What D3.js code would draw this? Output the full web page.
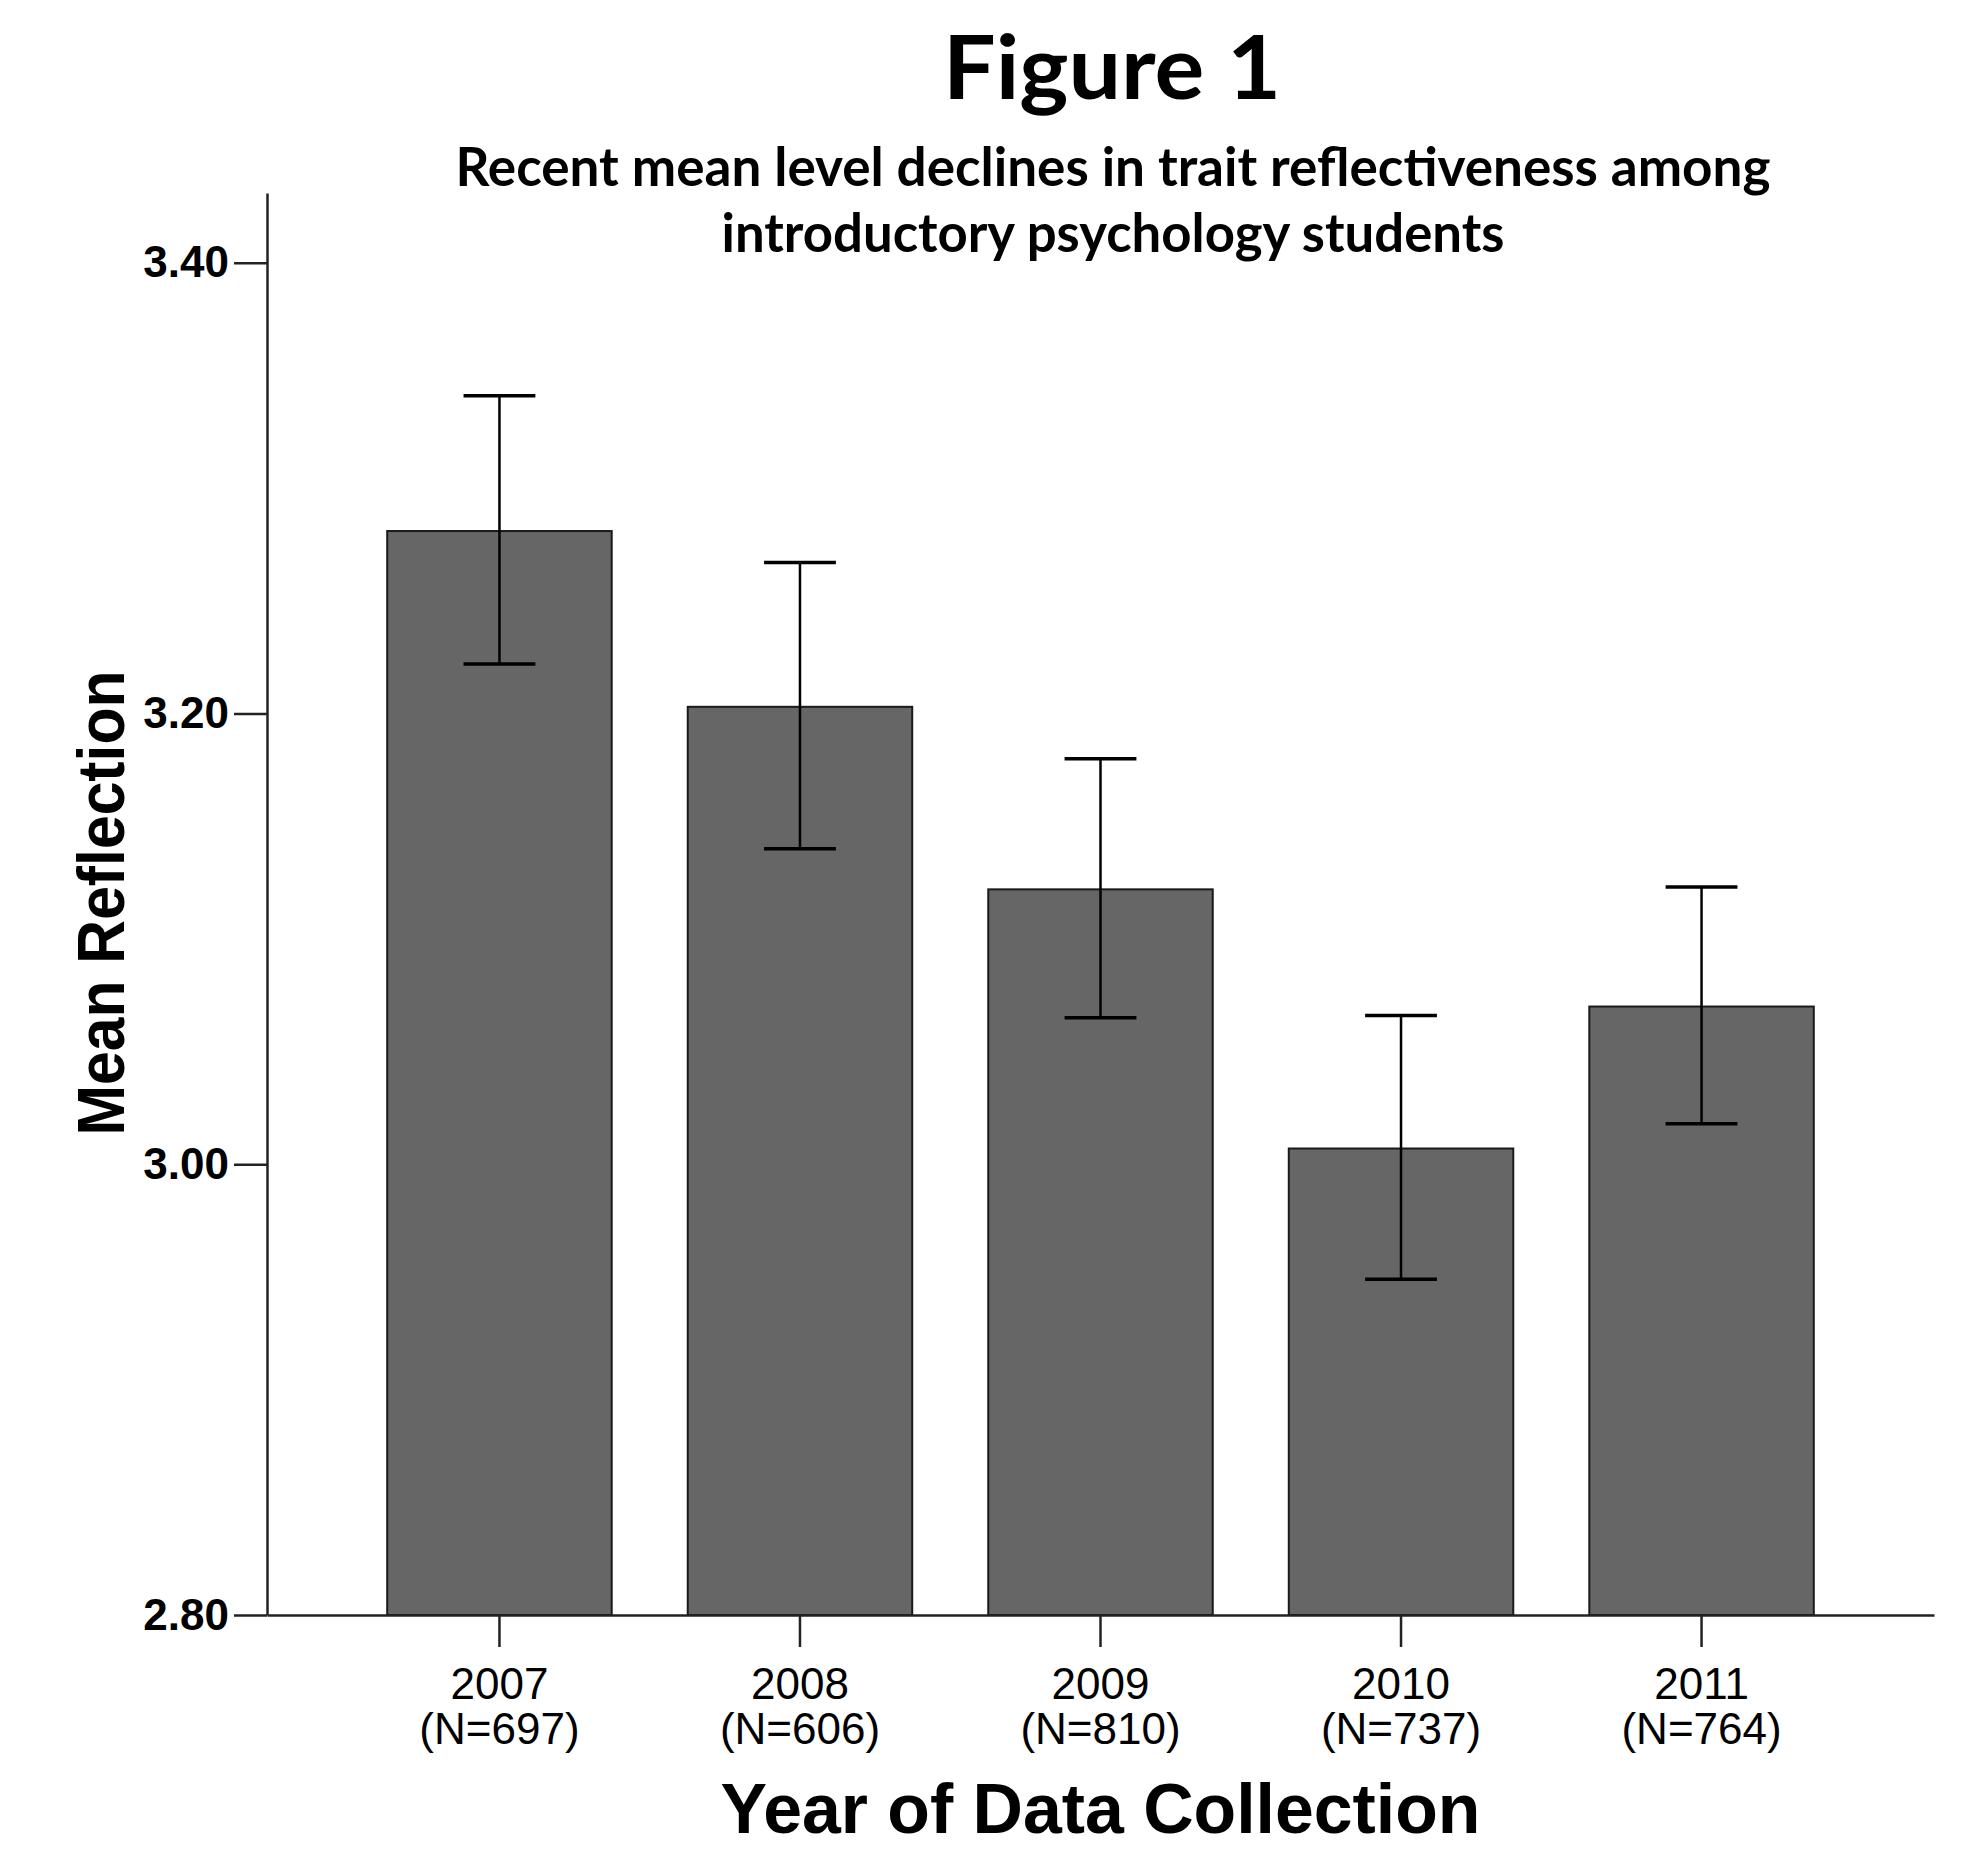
<!DOCTYPE html>
<html>
<head>
<meta charset="utf-8">
<script src="https://cdn.jsdelivr.net/npm/d3@7"></script>
<style>
  html, body { margin: 0; padding: 0; background: #fff; }
  svg { display: block; }
</style>
</head>
<body>
<svg id="chart" width="1986" height="1852"></svg>
<script>
// values
var years = ['2007', '2008', '2009', '2010', '2011'];
var sampleSizes = [697, 606, 810, 737, 764];
var means = [3.281, 3.203, 3.122, 3.007, 3.070];
var ciLow = [3.222, 3.140, 3.065, 2.949, 3.018];
var ciHigh = [3.341, 3.267, 3.180, 3.066, 3.123];
var yTicks = [2.80, 3.00, 3.20, 3.40];

var svg = d3.select('#chart');
// note: "top" is taken by window.top, so plot edges get their own names
var plotLeft = 267, plotRight = 1934, plotTop = 193, plotBottom = 1615;

var x = d3.scaleBand().domain(years).range([plotLeft, plotRight]).paddingInner(0.253).paddingOuter(0.4);
var y = d3.scaleLinear().domain([2.8, 3.431]).range([plotBottom, plotTop]);

var rows = years.map(function(yr, i) {
  return { year: yr, n: sampleSizes[i], mean: means[i], lo: ciLow[i], hi: ciHigh[i] };
});

// bars
svg.append('g').selectAll('rect').data(rows).enter().append('rect')
   .attr('x', d => x(d.year))
   .attr('y', d => y(d.mean))
   .attr('width', x.bandwidth())
   .attr('height', d => y(2.8) - y(d.mean))
   .attr('fill', '#666666')
   .attr('stroke', '#1a1a1a')
   .attr('stroke-width', 2);

// error bars
var capHalf = x.bandwidth() * 0.16;
var err = svg.append('g').attr('stroke', '#000').attr('stroke-width', 2.5);
rows.forEach(function(d) {
  var cx = x(d.year) + x.bandwidth() / 2;
  err.append('line').attr('x1', cx).attr('x2', cx).attr('y1', y(d.hi)).attr('y2', y(d.lo));
  err.append('line').attr('x1', cx - capHalf).attr('x2', cx + capHalf).attr('y1', y(d.hi)).attr('y2', y(d.hi)).attr('stroke-width', 3.5);
  err.append('line').attr('x1', cx - capHalf).attr('x2', cx + capHalf).attr('y1', y(d.lo)).attr('y2', y(d.lo)).attr('stroke-width', 3.5);
});

// y axis
var yAxis = svg.append('g')
   .attr('transform', 'translate(' + plotLeft + ',0)')
   .call(d3.axisLeft(y).tickValues(yTicks).tickFormat(d3.format('.2f')).tickSize(33).tickSizeOuter(0).tickPadding(5));
yAxis.select('.domain').attr('stroke', '#222').attr('stroke-width', 2.5);
yAxis.selectAll('.tick line').attr('stroke', '#222').attr('stroke-width', 2.5);
yAxis.selectAll('.tick text')
     .attr('font-family', '"Liberation Sans", Arial, sans-serif')
     .attr('font-size', 44).attr('font-weight', 700).attr('fill', '#000');

// x axis
var xAxis = svg.append('g')
   .attr('transform', 'translate(0,' + plotBottom + ')')
   .call(d3.axisBottom(x).tickSize(32).tickSizeOuter(0).tickFormat(''));
xAxis.select('.domain').attr('stroke', '#222').attr('stroke-width', 2.5);
xAxis.selectAll('.tick line').attr('stroke', '#222').attr('stroke-width', 2.5);
xAxis.selectAll('.tick text').remove();
xAxis.selectAll('.tick').each(function(yr, i) {
  var t = d3.select(this).append('text')
            .attr('font-family', '"Liberation Sans", Arial, sans-serif')
            .attr('font-size', 44).attr('fill', '#000')
            .attr('text-anchor', 'middle');
  t.append('tspan').attr('x', 0).attr('y', 84).text(yr);
  t.append('tspan').attr('x', 0).attr('y', 129).text('(N=' + sampleSizes[i] + ')');
});

// axis titles
svg.append('text')
   .attr('x', (plotLeft + plotRight) / 2).attr('y', 1833)
   .attr('text-anchor', 'middle')
   .attr('font-family', '"Liberation Sans", Arial, sans-serif')
   .attr('font-size', 70).attr('font-weight', 700)
   .attr('textLength', 760).attr('lengthAdjust', 'spacingAndGlyphs')
   .text('Year of Data Collection');

svg.append('text')
   .attr('transform', 'translate(124,903) rotate(-90)')
   .attr('text-anchor', 'middle')
   .attr('font-family', '"Liberation Sans", Arial, sans-serif')
   .attr('font-size', 66).attr('font-weight', 700)
   .attr('textLength', 465).attr('lengthAdjust', 'spacingAndGlyphs')
   .text('Mean Reflection');

// titles
svg.append('text')
   .attr('x', 1112).attr('y', 99)
   .attr('text-anchor', 'middle')
   .attr('font-family', 'Lato, "Open Sans", sans-serif')
   .attr('font-size', 88).attr('font-weight', 700)
   .attr('textLength', 338).attr('lengthAdjust', 'spacingAndGlyphs')
   .text('Figure 1');

var subLines = ['Recent mean level declines in trait reflectiveness among', 'introductory psychology students'];
var subWidths = [1315, 783];
subLines.forEach(function(line, idx) {
  svg.append('text')
     .attr('x', 1113).attr('y', 186 + idx * 66)
     .attr('text-anchor', 'middle')
     .attr('font-family', 'Lato, "Open Sans", sans-serif')
     .attr('font-size', 53).attr('font-weight', 700)
     .attr('textLength', subWidths[idx]).attr('lengthAdjust', 'spacingAndGlyphs')
     .text(line);
});
</script>
</body>
</html>
